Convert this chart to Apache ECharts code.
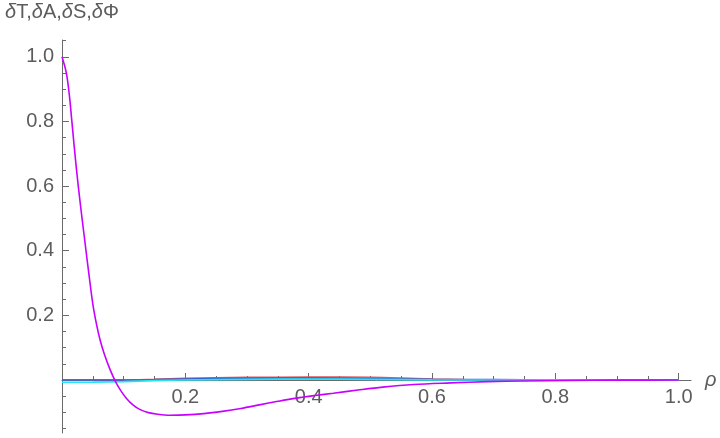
<!DOCTYPE html>
<html>
<head>
<meta charset="utf-8">
<script src="https://cdn.jsdelivr.net/npm/echarts@6/dist/echarts.min.js"></script>
<style>
html, body { margin: 0; padding: 0; background: #fff; }
#main { width: 720px; height: 438px; }
</style>
</head>
<body>
<div id="main"></div>
<script>
// curves: [rho, value]
var deltaPhi = [
    [0, 1.0], [0.007, 0.95], [0.012, 0.88], [0.016, 0.80], [0.023, 0.66],
    [0.030, 0.54], [0.037, 0.43], [0.044, 0.322], [0.050, 0.235], [0.056, 0.172],
    [0.062, 0.122], [0.069, 0.078], [0.078, 0.032], [0.087, -0.006], [0.095, -0.032],
    [0.105, -0.058], [0.115, -0.077], [0.126, -0.091], [0.140, -0.101], [0.155, -0.106],
    [0.175, -0.109], [0.20, -0.108], [0.23, -0.104], [0.26, -0.097], [0.29, -0.088],
    [0.32, -0.077], [0.35, -0.066], [0.38, -0.056], [0.41, -0.048], [0.44, -0.041],
    [0.48, -0.031], [0.52, -0.022], [0.57, -0.014], [0.63, -0.009], [0.69, -0.005],
    [0.75, -0.003], [0.82, -0.0015], [0.90, -0.0005], [1.0, 0]
];
var deltaT = [
    [0, 0], [0.10, 0], [0.15, 0.002], [0.20, 0.005], [0.25, 0.007], [0.30, 0.008],
    [0.40, 0.009], [0.50, 0.008], [0.55, 0.006], [0.60, 0.003], [0.65, 0.001],
    [0.70, 0], [1.0, 0]
];
var deltaA = [
    [0, 0], [0.10, 0], [0.15, 0.001], [0.20, 0.003], [0.30, 0.005], [0.40, 0.006],
    [0.50, 0.004], [0.60, 0.002], [0.70, 0.001], [0.80, 0], [1.0, 0]
];
var deltaS = [
    [0, -0.007], [0.05, -0.0065], [0.10, -0.005], [0.15, -0.002], [0.20, 0],
    [0.30, 0.002], [0.40, 0.003], [0.50, 0.002], [0.60, 0.0005], [0.70, 0], [1.0, 0]
];

var xTicks = [0.2, 0.4, 0.6, 0.8, 1.0];
var yTicks = [0.2, 0.4, 0.6, 0.8, 1.0];
var xMinorTicks = [0.05, 0.1, 0.15, 0.25, 0.3, 0.35, 0.45, 0.5, 0.55, 0.65, 0.7, 0.75, 0.85, 0.9, 0.95];
var yMinorTicks = [-0.15, -0.1, -0.05, 0.05, 0.1, 0.15, 0.25, 0.3, 0.35, 0.45, 0.5, 0.55,
    0.65, 0.7, 0.75, 0.85, 0.9, 0.95, 1.05];

var yMin = -0.164, yMax = 1.052;
var gridTop = 40, gridBottom = 5;
var gray = '#6a6a6a';
var textGray = '#5c5c5c';
var font = 'Liberation Sans';

// the horizontal axis sits at value 0, not at the bottom of the grid
var plotH = 438 - gridTop - gridBottom;
var zeroShift = -Math.round(plotH * (0 - yMin) / (yMax - yMin));

function fmt(v) { return Number(v).toFixed(1); }

var chart = echarts.init(document.getElementById('main'));

option = {
    animation: false,
    grid: { left: 62, right: 29, top: gridTop, bottom: gridBottom, containLabel: false, outerBoundsMode: 'none' },
    xAxis: [
        {
            type: 'value', min: 0, max: 1.02, position: 'bottom', offset: zeroShift,
            name: 'ρ', nameLocation: 'end', nameGap: 14,
            nameTextStyle: { fontFamily: font, fontSize: 20, fontStyle: 'italic', color: textGray },
            axisLine: { onZero: false, lineStyle: { color: gray, width: 1 } },
            axisTick: { inside: true, length: 7, customValues: xTicks, lineStyle: { color: gray } },
            axisLabel: { customValues: xTicks, formatter: fmt, margin: 7,
                fontFamily: font, fontSize: 20, color: textGray },
            splitLine: { show: false }
        },
        {
            type: 'value', min: 0, max: 1.02, position: 'bottom', offset: zeroShift,
            axisLine: { show: false, onZero: false },
            axisTick: { inside: true, length: 4, customValues: xMinorTicks, lineStyle: { color: gray } },
            axisLabel: { show: false },
            splitLine: { show: false }
        }
    ],
    yAxis: [
        {
            type: 'value', min: yMin, max: yMax, position: 'left',
            name: '{i|δ}T,{i|δ}A,{i|δ}S,{i|δ}Φ', nameLocation: 'end', nameGap: 18,
            nameTextStyle: {
                fontFamily: font, fontSize: 20, color: textGray,
                rich: { i: { fontFamily: font, fontSize: 20, fontStyle: 'italic', color: textGray } }
            },
            axisLine: { onZero: false, lineStyle: { color: gray, width: 1 } },
            axisTick: { inside: true, length: 7, customValues: yTicks, lineStyle: { color: gray } },
            axisLabel: { customValues: yTicks, formatter: fmt, margin: 8,
                fontFamily: font, fontSize: 20, color: textGray },
            splitLine: { show: false }
        },
        {
            type: 'value', min: yMin, max: yMax, position: 'left',
            axisLine: { show: false, onZero: false },
            axisTick: { inside: true, length: 4, customValues: yMinorTicks, lineStyle: { color: gray } },
            axisLabel: { show: false },
            splitLine: { show: false }
        }
    ],
    series: [
        { name: 'δT', type: 'line', data: deltaT, showSymbol: false, smooth: 0.35,
          lineStyle: { color: '#e0525c', width: 1.6 } },
        { name: 'δA', type: 'line', data: deltaA, showSymbol: false, smooth: 0.35,
          lineStyle: { color: '#2f63d6', width: 1.6 } },
        { name: 'δS', type: 'line', data: deltaS, showSymbol: false, smooth: 0.35,
          lineStyle: { color: '#22e6f0', width: 1.6 } },
        { name: 'δΦ', type: 'line', data: deltaPhi, showSymbol: false, smooth: 0.35,
          lineStyle: { color: '#c800ff', width: 1.6 } }
    ]
};

chart.setOption(option);
</script>
</body>
</html>
